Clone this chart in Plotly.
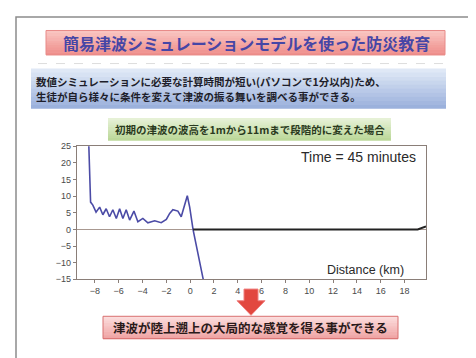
import plotly.graph_objects as go

W, H = 476, 358

# wave surface (blue) at t = 45 min
wave_x = [-8.55, -8.36, -8.17, -7.9, -7.6, -7.33, -7.05, -6.77, -6.49, -6.2, -5.92, -5.65,
          -5.37, -5.08, -4.72, -4.39, -3.97, -3.55, -2.98, -2.43, -2.0, -1.72, -1.45, -1.03,
          -0.75, -0.46, -0.24, -0.04, 0.24, 1.08, 1.25]
wave_y = [30.0, 8.2, 7.3, 5.2, 6.7, 4.4, 6.2, 3.8, 5.9, 3.3, 6.2, 3.3,
          5.9, 2.8, 5.5, 2.3, 3.3, 2.0, 2.6, 2.0, 3.0, 4.8, 5.9, 5.5,
          3.8, 7.7, 10.1, 6.7, 0.0, -14.7, -17.0]

# ground / sea floor line (black)
ground_x = [0.25, 19.1, 19.8]
ground_y = [0.0, 0.0, 0.9]

x_ticks = list(range(-8, 19, 2))
y_ticks = [25, 20, 15, 10, 5, 0, -5, -10, -15]

title_text = "簡易津波シミュレーションモデルを使った防災教育"
body_lines = ["数値シミュレーションに必要な計算時間が短い(パソコンで1分以内)ため、",
              "生徒が自ら様々に条件を変えて津波の振る舞いを調べる事ができる。"]
sub_text = "初期の津波の波高を1mから11mまで段階的に変えた場合"
time_text = "Time = 45 minutes"
xlabel_text = "Distance (km)"
bottom_text = "津波が陸上遡上の大局的な感覚を得る事ができる"

JP = "Noto Sans CJK JP"


def px(x):
    return x / W


def py(y):
    return 1 - y / H


def hexrgb(c):
    c = c.lstrip("#")
    return [int(c[i:i + 2], 16) for i in (0, 2, 4)]


def gradient_box(x0, y0, x1, y1, top, bottom, border=None, steps=10):
    shapes = []
    a, b = hexrgb(top), hexrgb(bottom)
    h = (y1 - y0) / steps
    for i in range(steps):
        t = i / (steps - 1)
        col = "rgb(%d,%d,%d)" % tuple(round(a[k] + (b[k] - a[k]) * t) for k in range(3))
        shapes.append(dict(type="rect", xref="paper", yref="paper",
                           x0=px(x0), x1=px(x1), y0=py(y0 + h * i), y1=py(y0 + h * (i + 1) + 0.5),
                           fillcolor=col, line=dict(width=0), layer="below"))
    if border:
        shapes.append(dict(type="rect", xref="paper", yref="paper",
                           x0=px(x0), x1=px(x1), y0=py(y0), y1=py(y1),
                           line=dict(color=border, width=1), layer="below"))
    return shapes


fig = go.Figure()
fig.add_trace(go.Scatter(x=wave_x, y=wave_y, mode="lines",
                         line=dict(color="#4b4ba6", width=1.6)))
fig.add_trace(go.Scatter(x=ground_x, y=ground_y, mode="lines",
                         line=dict(color="#222222", width=2)))

shapes = []
# slide frame
shapes.append(dict(type="rect", xref="paper", yref="paper", x0=px(8), x1=px(472), y0=py(362), y1=py(4),
                   line=dict(color="#8c8c8c", width=1.5), layer="below"))
shapes += gradient_box(38, 18, 437, 43, "#f9c4c0", "#ef8f8c", border="#e88a88")
shapes.append(dict(type="line", xref="paper", yref="paper", x0=px(30), x1=px(440), y0=py(52), y1=py(52),
                   line=dict(color="#dddddd", width=1, dash="dash"), layer="below"))
shapes += gradient_box(23, 57, 438, 98, "#dfe8f6", "#9bb1dc")
shapes += gradient_box(100, 108, 383, 131, "#e6f1d6", "#bcd89a")
shapes += gradient_box(95, 312, 390, 335, "#fbdcdc", "#f0a4a4", border="#d87070")
# red down arrow
ax, ay0, ay1 = 243, 284, 311
arrow_path = "M {} {} L {} {} L {} {} L {} {} L {} {} L {} {} L {} {} Z".format(
    px(ax - 7), py(ay0), px(ax + 7), py(ay0), px(ax + 7), py(ay0 + 12), px(ax + 14), py(ay0 + 12),
    px(ax), py(ay1), px(ax - 14), py(ay0 + 12), px(ax - 7), py(ay0 + 12))
shapes.append(dict(type="path", xref="paper", yref="paper", path=arrow_path,
                   fillcolor="#e2483f", line=dict(color="#f08080", width=1)))

annotations = [
    dict(text="<b>" + title_text + "</b>", x=px(238), y=py(31),
         font=dict(family=JP, size=16, color="#4646a6")),
    dict(text="<b>" + body_lines[0] + "</b>", x=px(26), y=py(70), xanchor="left",
         font=dict(family=JP, size=10.5, color="#1e1e2a")),
    dict(text="<b>" + body_lines[1] + "</b>", x=px(26), y=py(86), xanchor="left",
         font=dict(family=JP, size=10.5, color="#1e1e2a")),
    dict(text="<b>" + sub_text + "</b>", x=px(242), y=py(120),
         font=dict(family=JP, size=10.5, color="#2a3a20")),
    dict(text=time_text, x=px(410), y=py(148), xanchor="right",
         font=dict(family="Liberation Sans", size=14, color="#2a2a2a")),
    dict(text=xlabel_text, x=px(398), y=py(264), xanchor="right",
         font=dict(family="Liberation Sans", size=12.5, color="#2a2a2a")),
    dict(text="<b>" + bottom_text + "</b>", x=px(242), y=py(324),
         font=dict(family=JP, size=12.5, color="#2a1a1a")),
]
for a in annotations:
    a.update(xref="paper", yref="paper", showarrow=False)
    a.setdefault("xanchor", "center")
    a.setdefault("yanchor", "middle")

axis_common = dict(showline=True, linecolor="#8a7e78", linewidth=1.2, mirror=True,
                   showgrid=False, ticks="outside", ticklen=3, tickcolor="#8a7e78",
                   tickfont=dict(family="Liberation Sans", size=9, color="#4a4a4a"))

fig.update_layout(
    width=W, height=H, margin=dict(l=0, r=0, t=0, b=0),
    paper_bgcolor="white", plot_bgcolor="white", showlegend=False,
    shapes=shapes, annotations=annotations,
    xaxis=dict(domain=[px(69), px(418)], range=[-9.5, 19.8], tickvals=x_ticks,
               zeroline=False, **axis_common),
    yaxis=dict(domain=[py(274), py(137)], range=[-15, 25], tickvals=y_ticks,
               zeroline=True, zerolinecolor="#a89890", zerolinewidth=1, **axis_common),
)

fig.write_html("out.html")
